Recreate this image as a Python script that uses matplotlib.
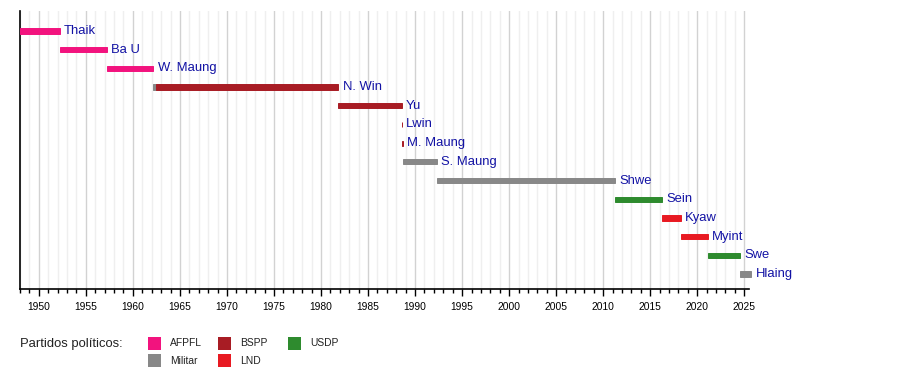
import matplotlib
matplotlib.use("Agg")

import matplotlib.pyplot as plt
from matplotlib.patches import Rectangle
from matplotlib.ticker import MultipleLocator

plt.rcParams['font.family'] = ['Liberation Sans', 'DejaVu Sans']

# presidents, top to bottom
names = ["Thaik", "Ba U", "W. Maung", "N. Win", "Yu", "Lwin", "M. Maung",
         "S. Maung", "Shwe", "Sein", "Kyaw", "Myint", "Swe", "Hlaing"]

# terms split by party: (row, start, end, party)
terms = [
    (0, 1948.01, 1952.20, "AFPFL"),
    (1, 1952.20, 1957.21, "AFPFL"),
    (2, 1957.21, 1962.17, "AFPFL"),
    (3, 1962.17, 1962.45, "Militar"),
    (3, 1962.45, 1981.85, "BSPP"),
    (4, 1981.85, 1988.56, "BSPP"),
    (5, 1988.57, 1988.62, "BSPP"),
    (6, 1988.63, 1988.71, "BSPP"),
    (7, 1988.71, 1992.31, "Militar"),
    (8, 1992.31, 2011.24, "Militar"),
    (9, 2011.24, 2016.24, "USDP"),
    (10, 2016.24, 2018.24, "LND"),
    (11, 2018.24, 2021.09, "LND"),
    (12, 2021.09, 2024.56, "USDP"),
    (13, 2024.56, 2025.75, "Militar"),
]

party_colors = {
    "AFPFL": "#f2137e",
    "Militar": "#888888",
    "BSPP": "#a81c24",
    "LND": "#e81a22",
    "USDP": "#2e8b2e",
}
legend_cols = [["AFPFL", "Militar"], ["BSPP", "LND"], ["USDP"]]

W, H = 900, 370
fig = plt.figure(figsize=(9, 3.7), dpi=100)
ax = fig.add_axes([20 / W, 81 / H, 729 / W, 278 / H])

for row, start, end, party in terms:
    # thin edge so the very short terms still show up
    ax.barh(row, end - start, left=start, height=0.28,
            color=party_colors[party], edgecolor=party_colors[party], lw=0.7,
            zorder=3, clip_on=False)

# name labels at the end of each row
for i, name in enumerate(names):
    last_end = max(e for r, s, e, p in terms if r == i)
    ax.text(last_end + 0.45, i, name, color="#1212a4", fontsize=9.4,
            va="center", ha="left", zorder=4)

ax.set_xlim(1948, 2025.5)
ax.set_ylim(13.8, -1.07)

ax.xaxis.set_major_locator(MultipleLocator(5))
ax.xaxis.set_minor_locator(MultipleLocator(1))
ax.grid(which="major", axis="x", color="#d2d2d2", lw=1, zorder=0)
ax.grid(which="minor", axis="x", color="#efefef", lw=1, zorder=0)
ax.set_axisbelow(True)
ax.set_yticks([])
ax.tick_params(axis="x", which="major", length=5, width=1, labelsize=7.4,
               pad=4, color="black")
ax.tick_params(axis="x", which="minor", length=3, width=1, color="black")

for side in ["top", "right"]:
    ax.spines[side].set_visible(False)
ax.spines["left"].set_linewidth(1.2)
ax.spines["bottom"].set_linewidth(1.2)


def px(x, y):
    return x / W, 1 - y / H


# legend
fig.text(*px(20, 344), "Partidos políticos:", fontsize=9.4, va="center",
         ha="left", color="#222222")
col_x = [148, 218, 288]
row_y = [337, 354]
for c, col in enumerate(legend_cols):
    for r, party in enumerate(col):
        x0, y0 = px(col_x[c], row_y[r] + 13)
        fig.add_artist(Rectangle((x0, y0), 13 / W, 13 / H,
                                 transform=fig.transFigure,
                                 color=party_colors[party], lw=0))
        fig.text(*px(col_x[c] + 22, row_y[r] + 6.5), party, fontsize=7.4,
                 va="center", ha="left", color="#222222")

fig.savefig("out.png", dpi=100)
plt.close(fig)
